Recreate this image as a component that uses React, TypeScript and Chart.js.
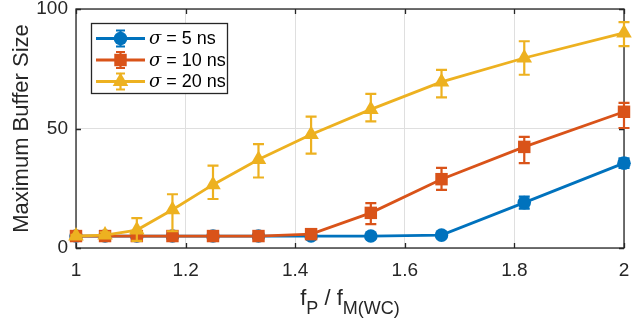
import React, { useEffect, useRef } from "react";
import { Chart, registerables } from "chart.js";

Chart.register(...registerables);

const xValues = [1, 1.053, 1.111, 1.176, 1.25, 1.333, 1.429, 1.538, 1.667, 1.818, 2];

const blueY = [5, 5, 5, 5, 5, 5, 5, 5, 5.4, 19, 35.5];
const blueLo = [4.6, 4.6, 4.6, 4.6, 4.6, 4.6, 4.6, 4.6, 5, 16.5, 33.5];
const blueHi = [5.4, 5.4, 5.4, 5.4, 5.4, 5.4, 5.4, 5.4, 5.8, 21.5, 37.5];

const redY = [5, 5, 5, 5, 5, 5, 5.8, 14.7, 28.8, 42.3, 57];
const redLo = [4.5, 4.5, 4.5, 4.5, 4.5, 4.5, 5, 10, 24.3, 35.5, 50.2];
const redHi = [5.5, 5.5, 5.5, 5.5, 5.5, 5.5, 6.6, 18.8, 33.5, 46.5, 60.7];

const yellowY = [5, 5.4, 7.5, 16, 26.5, 37, 47.5, 58, 69.5, 79.5, 90];
const yellowLo = [4.5, 4.5, 3, 7, 20.5, 29.5, 39.5, 53, 63, 72.5, 84.5];
const yellowHi = [5.5, 6.5, 12.5, 22.5, 34.5, 43.5, 55, 64.5, 74.5, 86.5, 94.5];

const seriesLabels = ["5 ns", "10 ns", "20 ns"];
const xTicks = [1, 1.2, 1.4, 1.6, 1.8, 2];
const yTicks = [0, 50, 100];

const COLORS = ["#0072BD", "#D95319", "#EDB120"];
const STYLES = ["circle", "rect", "triangle"];
const RADII = [6.8, 8.8, 9];
const FONT = "'Liberation Sans', Arial, Helvetica, sans-serif";
const AXIS = "#262626";

const errs = [
  { lo: blueLo, hi: blueHi },
  { lo: redLo, hi: redHi },
  { lo: yellowLo, hi: yellowHi },
];

const errorBarPlugin = {
  id: "errorBars",
  beforeDatasetDraw(chart: any, args: any) {
    const i = args.index;
    const e = errs[i];
    if (!e) return;
    const { ctx, scales } = chart;
    const xs = scales.x;
    const ys = scales.y;
    ctx.save();
    ctx.strokeStyle = COLORS[i];
    ctx.lineWidth = 2.2;
    const cap = 5.5;
    for (let k = 0; k < xValues.length; k++) {
      const px = xs.getPixelForValue(xValues[k]);
      const pl = ys.getPixelForValue(e.lo[k]);
      const ph = ys.getPixelForValue(e.hi[k]);
      ctx.beginPath();
      ctx.moveTo(px, pl);
      ctx.lineTo(px, ph);
      ctx.moveTo(px - cap, pl);
      ctx.lineTo(px + cap, pl);
      ctx.moveTo(px - cap, ph);
      ctx.lineTo(px + cap, ph);
      ctx.stroke();
    }
    ctx.restore();
  },
};

const framePlugin = {
  id: "frame",
  beforeDatasetsDraw(chart: any) {
    const { ctx, chartArea: a, scales } = chart;
    ctx.save();
    ctx.strokeStyle = AXIS;
    ctx.lineWidth = 1.3;
    ctx.strokeRect(a.left, a.top, a.right - a.left, a.bottom - a.top);
    const tl = 5;
    ctx.beginPath();
    for (const v of xTicks) {
      const px = Math.round(scales.x.getPixelForValue(v)) + 0.5;
      ctx.moveTo(px, a.bottom);
      ctx.lineTo(px, a.bottom - tl);
      ctx.moveTo(px, a.top);
      ctx.lineTo(px, a.top + tl);
    }
    for (const v of yTicks) {
      const py = Math.round(scales.y.getPixelForValue(v)) + 0.5;
      ctx.moveTo(a.left, py);
      ctx.lineTo(a.left + tl, py);
      ctx.moveTo(a.right, py);
      ctx.lineTo(a.right - tl, py);
    }
    ctx.stroke();
    ctx.restore();
  },
};

function drawMarker(ctx: any, style: string, x: number, y: number, r: number) {
  ctx.beginPath();
  if (style === "circle") {
    ctx.arc(x, y, r, 0, Math.PI * 2);
  } else if (style === "rect") {
    const s = Math.SQRT1_2 * r;
    ctx.rect(x - s, y - s, 2 * s, 2 * s);
  } else {
    const rad = (a: number) => (a * Math.PI) / 180;
    ctx.moveTo(x + Math.sin(rad(0)) * r, y - Math.cos(rad(0)) * r);
    ctx.lineTo(x + Math.sin(rad(120)) * r, y - Math.cos(rad(120)) * r);
    ctx.lineTo(x + Math.sin(rad(240)) * r, y - Math.cos(rad(240)) * r);
    ctx.closePath();
  }
  ctx.fill();
}

const annotationsPlugin = {
  id: "annotations",
  afterDraw(chart: any) {
    const { ctx, chartArea: a } = chart;
    ctx.save();
    // Y title
    ctx.fillStyle = AXIS;
    ctx.font = `22px ${FONT}`;
    ctx.textAlign = "center";
    ctx.textBaseline = "middle";
    ctx.translate(22, (a.top + a.bottom) / 2);
    ctx.rotate(-Math.PI / 2);
    ctx.fillText("Maximum Buffer Size", 0, 0);
    ctx.restore();

    // X title with subscripts
    ctx.save();
    ctx.fillStyle = AXIS;
    ctx.textBaseline = "alphabetic";
    ctx.textAlign = "left";
    const mainF = `22px ${FONT}`;
    const subF = `18px ${FONT}`;
    const parts = [
      { t: "f", f: mainF, dy: 0 },
      { t: "P", f: subF, dy: 9 },
      { t: " / f", f: mainF, dy: 0 },
      { t: "M(WC)", f: subF, dy: 9 },
    ];
    let total = 0;
    for (const p of parts) {
      ctx.font = p.f;
      total += ctx.measureText(p.t).width;
    }
    let cx = (a.left + a.right) / 2 - total / 2;
    const base = 305;
    for (const p of parts) {
      ctx.font = p.f;
      ctx.fillText(p.t, cx, base + p.dy);
      cx += ctx.measureText(p.t).width;
    }
    ctx.restore();

    // Legend
    ctx.save();
    const bx = 91, by = 23, bw = 136, bh = 70;
    ctx.fillStyle = "#ffffff";
    ctx.fillRect(bx, by, bw, bh);
    ctx.strokeStyle = AXIS;
    ctx.lineWidth = 1.3;
    ctx.strokeRect(bx + 0.5, by + 0.5, bw, bh);
    const rows = [38.5, 60, 81.5];
    for (let i = 0; i < 3; i++) {
      const y = rows[i];
      ctx.strokeStyle = COLORS[i];
      ctx.fillStyle = COLORS[i];
      ctx.lineWidth = 2.8;
      ctx.beginPath();
      ctx.moveTo(96, y);
      ctx.lineTo(145, y);
      ctx.stroke();
      ctx.lineWidth = 2.2;
      ctx.beginPath();
      ctx.moveTo(120.5, y - 8);
      ctx.lineTo(120.5, y + 8);
      ctx.moveTo(116, y - 8);
      ctx.lineTo(125, y - 8);
      ctx.moveTo(116, y + 8);
      ctx.lineTo(125, y + 8);
      ctx.stroke();
      drawMarker(ctx, STYLES[i], 120.5, y, RADII[i]);
      ctx.fillStyle = "#000000";
      ctx.textBaseline = "middle";
      ctx.textAlign = "left";
      ctx.font = `italic 18px 'DejaVu Serif', serif`;
      const sx = 149;
      ctx.fillText("σ", sx, y + 1);
      const sw = ctx.measureText("σ").width;
      ctx.font = `18px ${FONT}`;
      ctx.fillText(" = " + seriesLabels[i], sx + sw, y + 1);
    }
    ctx.restore();
  },
};

export default function App() {
  const ref = useRef<HTMLCanvasElement | null>(null);
  useEffect(() => {
    if (!ref.current) return;
    const mk = (ys: number[], i: number) => ({
      label: "σ = " + seriesLabels[i],
      data: xValues.map((x, k) => ({ x, y: ys[k] })),
      borderColor: COLORS[i],
      backgroundColor: COLORS[i],
      pointBackgroundColor: COLORS[i],
      pointBorderColor: COLORS[i],
      pointBorderWidth: 0,
      pointStyle: STYLES[i],
      pointRadius: RADII[i],
      borderWidth: 2.8,
      tension: 0,
      clip: false as any,
      order: 3 - i,
    });
    const chart = new Chart(ref.current, {
      type: "line",
      data: {
        datasets: [mk(blueY, 0), mk(redY, 1), mk(yellowY, 2)] as any,
      },
      options: {
        animation: false,
        responsive: false,
        maintainAspectRatio: false,
        layout: { padding: { left: 0, right: 5, top: 9, bottom: 0 } },
        plugins: {
          legend: { display: false },
          tooltip: { enabled: false },
        },
        scales: {
          x: {
            type: "linear",
            min: 1,
            max: 2,
            afterBuildTicks: (s: any) => {
              s.ticks = xTicks.map((v) => ({ value: v }));
            },
            afterFit: (s: any) => {
              s.height = 80;
              s.paddingLeft = 0;
              s.paddingRight = 0;
            },
            ticks: {
              color: AXIS,
              font: { family: FONT, size: 19 },
              padding: 11,
              maxRotation: 0,
              callback: (v: any) => String(Number(v)),
            },
            grid: { color: "#dfdfdf", lineWidth: 1, drawTicks: false },
            border: { display: false },
          },
          y: {
            type: "linear",
            min: 0,
            max: 100,
            afterBuildTicks: (s: any) => {
              s.ticks = yTicks.map((v) => ({ value: v }));
            },
            afterFit: (s: any) => {
              s.width = 76;
              s.paddingTop = 0;
              s.paddingBottom = 0;
            },
            ticks: {
              color: AXIS,
              font: { family: FONT, size: 19 },
              padding: 8,
              callback: (v: any) => String(v),
            },
            grid: { color: "#dfdfdf", lineWidth: 1, drawTicks: false },
            border: { display: false },
          },
        },
      },
      plugins: [errorBarPlugin, framePlugin, annotationsPlugin],
    });
    return () => chart.destroy();
  }, []);
  return (
    <div style={{ position: "fixed", left: 0, top: 0, width: 633, height: 328, background: "#fff" }}>
      <canvas ref={ref} width={633} height={328} style={{ width: 633, height: 328 }} />
    </div>
  );
}
